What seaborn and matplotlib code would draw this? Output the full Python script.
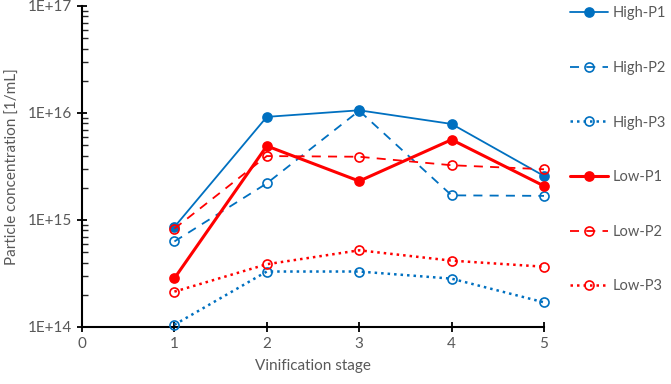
import numpy as np
import pandas as pd
import seaborn as sns
import matplotlib as mpl
import matplotlib.pyplot as plt
from matplotlib.ticker import FixedLocator, LogLocator, FuncFormatter, NullFormatter

sns.set_style("white")
mpl.rcParams["font.family"] = ["Lato", "DejaVu Sans"]
mpl.rcParams["figure.dpi"] = 100

stage = [1, 2, 3, 4, 5]
high_p1 = [8.6e14, 9.2e15, 1.06e16, 7.9e15, 2.58e15]
high_p2 = [6.3e14, 2.2e15, 1.05e16, 1.70e15, 1.68e15]
high_p3 = [1.05e14, 3.3e14, 3.3e14, 2.83e14, 1.70e14]
low_p1 = [2.85e14, 4.92e15, 2.31e15, 5.63e15, 2.08e15]
low_p2 = [8.3e14, 3.96e15, 3.9e15, 3.25e15, 2.98e15]
low_p3 = [2.14e14, 3.86e14, 5.21e14, 4.17e14, 3.66e14]

names = ["High-P1", "High-P2", "High-P3", "Low-P1", "Low-P2", "Low-P3"]
values = [high_p1, high_p2, high_p3, low_p1, low_p2, low_p3]

blue = "#0070C0"
red = "#FF0000"
styles = {
    "High-P1": dict(color=blue, linestyle="-", lw=1.3, filled=True),
    "High-P2": dict(color=blue, linestyle=(0, (5, 4)), lw=1.3, filled=False),
    "High-P3": dict(color=blue, linestyle=(0, (1, 1.6)), lw=1.8, filled=False),
    "Low-P1": dict(color=red, linestyle="-", lw=2.2, filled=True),
    "Low-P2": dict(color=red, linestyle=(0, (5, 4)), lw=1.3, filled=False),
    "Low-P3": dict(color=red, linestyle=(0, (1, 1.6)), lw=1.8, filled=False),
}

rows = []
for n, v in zip(names, values):
    for s, c in zip(stage, v):
        rows.append({"series": n, "stage": s, "conc": c})
df = pd.DataFrame(rows)

fig = plt.figure(figsize=(6.71, 3.84))
ax = fig.add_axes([82 / 671, 1 - 327 / 384, (544 - 82) / 671, (327 - 6) / 384])

for n in names:
    st = styles[n]
    sub = df[df["series"] == n]
    sns.lineplot(
        data=sub, x="stage", y="conc", ax=ax, label=n,
        color=st["color"], linestyle=st["linestyle"], linewidth=st["lw"],
        marker="o", markersize=6.5,
        markerfacecolor=st["color"] if st["filled"] else "none",
        markeredgecolor=st["color"], markeredgewidth=1.2,
        clip_on=False, zorder=3,
    )

ax.set_yscale("log")
ax.set_ylim(1e14, 1e17)
ax.set_xlim(0, 5)
ax.xaxis.set_major_locator(FixedLocator([0, 1, 2, 3, 4, 5]))
ax.yaxis.set_major_locator(FixedLocator([1e14, 1e15, 1e16, 1e17]))
ax.yaxis.set_minor_locator(LogLocator(base=10, subs=np.arange(2, 10)))
ax.yaxis.set_minor_formatter(NullFormatter())
ax.yaxis.set_major_formatter(FuncFormatter(lambda v, p: "1E+{:d}".format(int(round(np.log10(v))))))

for side in ["top", "right"]:
    ax.spines[side].set_visible(False)
for side in ["left", "bottom"]:
    ax.spines[side].set_color("black")
    ax.spines[side].set_linewidth(1.5)

grey = "#595959"
ax.tick_params(axis="both", which="major", direction="inout", length=7, width=1.3,
               colors="black", labelcolor=grey, labelsize=11, left=True, bottom=True)
ax.tick_params(axis="y", which="minor", direction="in", length=4, width=1.0, left=True)
ax.set_xlabel("Vinification stage", color=grey, fontsize=11, labelpad=6)
ax.set_ylabel("Particle concentration [1/mL]", color=grey, fontsize=11, labelpad=6)

ax.legend_.remove()
handles, labels = ax.get_legend_handles_labels()
fig.legend(handles, labels, loc="upper left", bbox_to_anchor=(561 / 671, 1.006),
           frameon=False, fontsize=10.5, labelcolor=grey, handlelength=2.6,
           handletextpad=0.35, labelspacing=2.78, borderaxespad=0.2, numpoints=1)

plt.savefig("out.png", dpi=100)
